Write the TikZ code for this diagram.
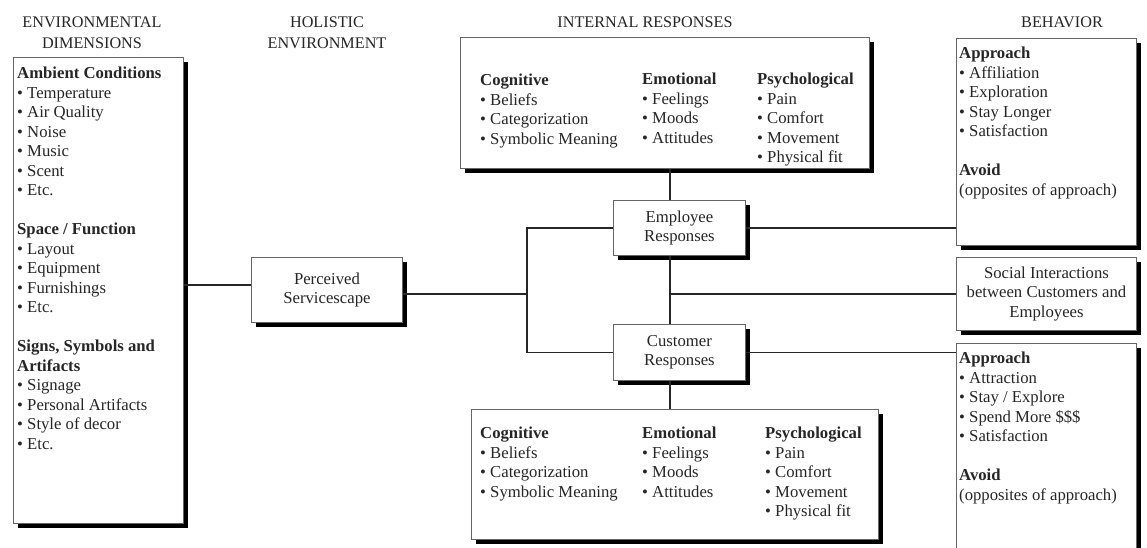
\documentclass[tikz,border=0pt]{standalone}
\usepackage{fontspec}
\setmainfont{Liberation Serif}
\usetikzlibrary{shadows}
\begin{document}
\begin{tikzpicture}[x=1pt,y=-1pt,
  box/.style={draw=black!60, line width=0.9pt, fill=white, inner sep=0pt,
    drop shadow={shadow xshift=5pt, shadow yshift=-5pt, fill=black, opacity=1}},
  wire/.style={draw=black!85, line width=1.3pt},
  listtext/.style={font=\fontsize{16.7}{19.5}\selectfont, text=black!85, align=left, inner sep=0pt, anchor=north west},
  boxtext/.style={font=\fontsize{16.7}{19.5}\selectfont, text=black!85, align=center},
  head/.style={font=\fontsize{16.2}{21}\selectfont, text=black!85, align=center, inner sep=0pt}
]
\useasboundingbox (0,0) rectangle (1147,547);
\fill[white] (0,0) rectangle (1147,547);
\clip (0,0) rectangle (1147,547);

% column headings
\node[head] (hEnv) at (92,33) {ENVIRONMENTAL\\DIMENSIONS};
\node[head] (hHol) at (327,33) {HOLISTIC\\ENVIRONMENT};
\node[head] (hInt) at (645,22) {INTERNAL RESPONSES};
\node[head] (hBeh) at (1062,22) {BEHAVIOR};

% boxes
\node[box, anchor=north west, minimum width=170pt, minimum height=466pt] (dims) at (13,57) {};
\node[box, anchor=north west, minimum width=151pt, minimum height=65pt, boxtext] (perc) at (251,257) {Perceived\\Servicescape};
\node[box, anchor=north west, minimum width=409pt, minimum height=131pt] (irTop) at (460,37) {};
\node[box, anchor=north west, minimum width=132pt, minimum height=55pt, boxtext] (emp) at (613,200) {Employee\\Responses};
\node[box, anchor=north west, minimum width=132pt, minimum height=56pt, boxtext] (cust) at (613,324) {Customer\\Responses};
\node[box, anchor=north west, minimum width=407pt, minimum height=130pt] (irBot) at (471,409) {};
\node[box, anchor=north west, minimum width=180pt, minimum height=207pt] (behTop) at (956,38) {};
\node[box, anchor=north west, minimum width=180pt, minimum height=73pt, boxtext] (soc) at (956,257) {Social Interactions\\between Customers and\\Employees};
\node[box, anchor=north west, minimum width=180pt, minimum height=227pt] (behBot) at (956,343) {};

% box contents
\node[listtext] (dimsList) at (17,67) {\textbf{Ambient Conditions}\\
  • Temperature\\ • Air Quality\\ • Noise\\ • Music\\ • Scent\\ • Etc.\\[19.5pt]
  \textbf{Space / Function}\\
  • Layout\\ • Equipment\\ • Furnishings\\ • Etc.\\[19.5pt]
  \textbf{Signs, Symbols and}\\ \textbf{Artifacts}\\
  • Signage\\ • Personal Artifacts\\ • Style of decor\\ • Etc.};

\node[listtext] (cogTop) at (480,74) {\textbf{Cognitive}\\ • Beliefs\\ • Categorization\\ • Symbolic Meaning};
\node[listtext] (emoTop) at (642,73) {\textbf{Emotional}\\ • Feelings\\ • Moods\\ • Attitudes};
\node[listtext] (psyTop) at (757,73) {\textbf{Psychological}\\ • Pain\\ • Comfort\\ • Movement\\ • Physical fit};

\node[listtext] (cogBot) at (480,427) {\textbf{Cognitive}\\ • Beliefs\\ • Categorization\\ • Symbolic Meaning};
\node[listtext] (emoBot) at (642,427) {\textbf{Emotional}\\ • Feelings\\ • Moods\\ • Attitudes};
\node[listtext] (psyBot) at (765,427) {\textbf{Psychological}\\ • Pain\\ • Comfort\\ • Movement\\ • Physical fit};

\node[listtext] (behTopList) at (959,47) {\textbf{Approach}\\ • Affiliation\\ • Exploration\\ • Stay Longer\\ • Satisfaction\\[19.5pt]
  \textbf{Avoid}\\ (opposites of approach)};
\node[listtext] (behBotList) at (959,352) {\textbf{Approach}\\ • Attraction\\ • Stay / Explore\\ • Spend More \$\$\$\\ • Satisfaction\\[19.5pt]
  \textbf{Avoid}\\ (opposites of approach)};

% connector routing points
\coordinate (yDims) at (0,285);
\coordinate (yPerc) at (0,294);
\coordinate (bus) at (527,290);
\coordinate (vx) at (670,0);

% connectors
\draw[wire] (dims.east |- yDims) -- (perc.west |- yDims);
\draw[wire] (perc.east |- yPerc) -- (bus |- yPerc);
\draw[wire] (emp.west) -| (bus) |- (cust.west);
\draw[wire] (irTop.south -| vx) -- (emp.north -| vx);
\draw[wire] (emp.south -| vx) -- (cust.north -| vx);
\draw[wire] (cust.south -| vx) -- (irBot.north -| vx);
\draw[wire] (vx |- soc.west) -- (soc.west);
\draw[wire] (emp.east) -- (emp.east -| behTop.west);
\draw[wire] (cust.east) -- (cust.east -| behBot.west);
\end{tikzpicture}
\end{document}
